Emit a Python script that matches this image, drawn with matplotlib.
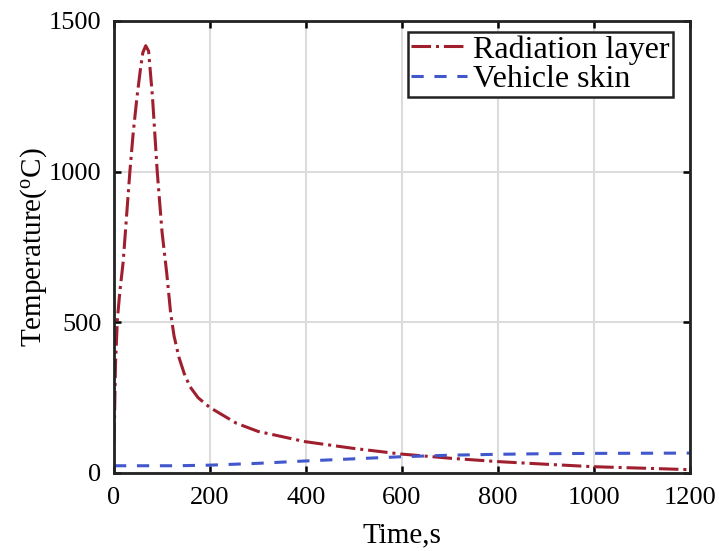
import matplotlib

matplotlib.use("Agg")
import matplotlib.pyplot as plt  # noqa: E402

plt.rcParams["font.family"] = ["Liberation Serif", "DejaVu Serif"]
plt.rcParams["mathtext.fontset"] = "stix"

# Radiation layer temperature history (s, degC)
rad_time = [0, 1, 3, 7, 12, 19, 26, 33, 40, 48, 55, 60, 66, 72, 80, 90, 100,
            110, 118, 125, 135, 146, 158, 175, 199, 255, 300, 398, 497, 597,
            700, 797, 900, 996, 1100, 1200]
rad_temp = [100, 180, 360, 510, 600, 700, 850, 1000, 1130, 1250, 1340, 1395,
            1418, 1400, 1250, 1000, 800, 660, 530, 455, 385, 331, 287, 250,
            218, 165, 138, 104, 82, 63, 49, 38, 29, 21, 16, 11]

# Vehicle skin temperature history (s, degC)
skin_time = [0, 130, 200, 300, 400, 500, 600, 700, 800, 900, 1000, 1100, 1200]
skin_temp = [24, 24, 26, 32, 40, 47, 54, 59, 62, 64, 65, 65.5, 66]

x_ticks = [0, 200, 400, 600, 800, 1000, 1200]
y_ticks = [0, 500, 1000, 1500]

fig = plt.figure(figsize=(7.19, 5.51), dpi=100)
ax = fig.add_axes([0.1586, 0.1416, 0.8011, 0.8203])

ax.plot(rad_time, rad_temp, color="#A01F2E", linestyle="-.", linewidth=2.2,
        label="Radiation layer")
ax.plot(skin_time, skin_temp, color="#4257CC", linestyle="--", linewidth=2.2,
        dashes=(4, 3.5), label="Vehicle skin")

ax.set_xlim(0, 1200)
ax.set_ylim(0, 1500)
ax.set_xticks(x_ticks)
ax.set_yticks(y_ticks)
ax.grid(True, color="#dcdcdc", linewidth=1.5)
ax.set_axisbelow(True)

ax.tick_params(direction="in", top=True, right=True, length=5, width=1.8,
               labelsize=19)
ax.tick_params(axis="x", pad=10)
ax.tick_params(axis="y", pad=9)
for spine in ax.spines.values():
    spine.set_linewidth(2.0)
    spine.set_color("#222222")

ax.set_xlabel("Time,s", fontsize=21, labelpad=10)
ax.set_ylabel(r"Temperature($\mathregular{^{o}}$C)", fontsize=21, labelpad=0)

leg = ax.legend(loc="upper right", bbox_to_anchor=(0.9705, 0.9757),
                fontsize=23, frameon=True, fancybox=False,
                handlelength=1.75, handletextpad=0.2, borderpad=0.1,
                labelspacing=0.0, borderaxespad=0.0)
leg.get_frame().set_edgecolor("#222222")
leg.get_frame().set_linewidth(1.8)
leg.get_frame().set_alpha(1.0)

fig.savefig("out.png", dpi=100)
